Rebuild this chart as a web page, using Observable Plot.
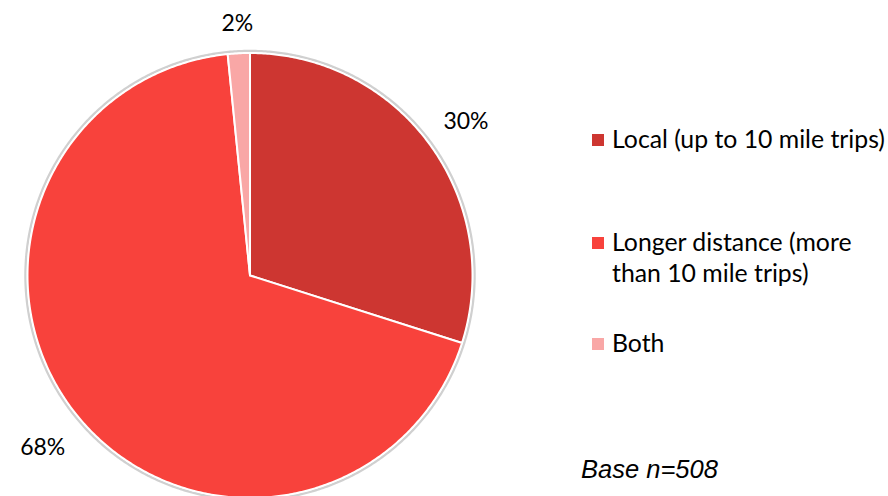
<!DOCTYPE html>
<html>
<head>
<meta charset="utf-8">
<script src="https://cdn.jsdelivr.net/npm/d3@7"></script>
<script src="https://cdn.jsdelivr.net/npm/@observablehq/plot@0.6"></script>
<style>
  body { margin: 0; background: #fff; }
  #wrap { position: relative; width: 888px; height: 496px; overflow: hidden; background: #fff; }
  #wrap > svg { position: absolute; left: 0; top: 0; }
</style>
</head>
<body>
<div id="wrap"></div>
<script>
// ---- data ----
const categories = ["Local (up to 10 mile trips)", "Longer distance (more than 10 mile trips)", "Both"];
const shares = [29.9, 68.5, 1.6];
const pctLabels = ["30%", "68%", "2%"];
const legendLines = [["Local (up to 10 mile trips)"], ["Longer distance (more", "than 10 mile trips)"], ["Both"]];
const colors = ["#CD3631", "#F8423C", "#F9A7A6"];
const baseNote = "Base n=508";

const rows = categories.map((c, i) => ({cat: c, share: shares[i], label: pctLabels[i]}));
const arcs = d3.pie().sort(null).value(d => d.share)(rows);

// slice polygons built from pie angles
const slicePts = [];
for (const a of arcs) {
  slicePts.push({cat: a.data.cat, x: 0, y: 0});
  const n = Math.max(2, Math.ceil((a.endAngle - a.startAngle) / (Math.PI / 360)));
  for (let k = 0; k <= n; k++) {
    const t = a.startAngle + (a.endAngle - a.startAngle) * k / n;
    slicePts.push({cat: a.data.cat, x: Math.sin(t), y: Math.cos(t)});
  }
}
const ring = d3.range(0, 721).map(k => {
  const t = k / 720 * 2 * Math.PI;
  return {x: 1.009 * Math.sin(t), y: 1.009 * Math.cos(t)};
});
const labelPts = arcs.map(a => {
  const m = (a.startAngle + a.endAngle) / 2;
  const R = 1.13 + 0.09 * Math.abs(Math.sin(m));
  return {x: R * Math.sin(m), y: R * Math.cos(m) - 0.025 * Math.abs(Math.sin(m)), label: a.data.label};
});

const chart = Plot.plot({
  width: 888,
  height: 496,
  margin: 0,
  style: {fontFamily: "Lato, sans-serif", background: "transparent", overflow: "visible"},
  x: {domain: [-1, 1], range: [27, 472], axis: null},
  y: {domain: [-1, 1], range: [497.5, 52.5], axis: null},
  color: {domain: categories, range: colors},
  marks: [
    Plot.line(ring, {x: "x", y: "y", curve: "linear-closed", stroke: "#c4c4c4", strokeWidth: 2.5, strokeOpacity: 0.8}),
    Plot.line(slicePts, {x: "x", y: "y", z: "cat", fill: "cat", stroke: "white", strokeWidth: 2, strokeLinejoin: "round", curve: "linear-closed"}),
    Plot.text(labelPts, {x: "x", y: "y", text: "label", fontSize: 23, fill: "#000", textAnchor: "middle", lineAnchor: "middle"})
  ]
});
document.getElementById("wrap").appendChild(chart);

// legend + note overlay
const leg = d3.select("#wrap").append("svg")
  .attr("width", 888).attr("height", 496)
  .style("font-family", "Lato, sans-serif");
const baselines = [[148], [251, 282], [352]];
legendLines.forEach((lines, i) => {
  const b0 = baselines[i][0];
  leg.append("rect").attr("x", 592).attr("y", b0 - 14).attr("width", 12).attr("height", 12).attr("fill", colors[i]);
  lines.forEach((ln, j) => {
    leg.append("text").attr("x", 612).attr("y", baselines[i][j]).attr("font-size", 24.8).attr("fill", "#000").text(ln);
  });
});
leg.append("text").attr("x", 581).attr("y", 478)
  .attr("font-family", "'Liberation Sans', Arial, sans-serif").attr("font-style", "italic")
  .attr("font-size", 25.5).attr("fill", "#000").text(baseNote);
</script>
</body>
</html>
